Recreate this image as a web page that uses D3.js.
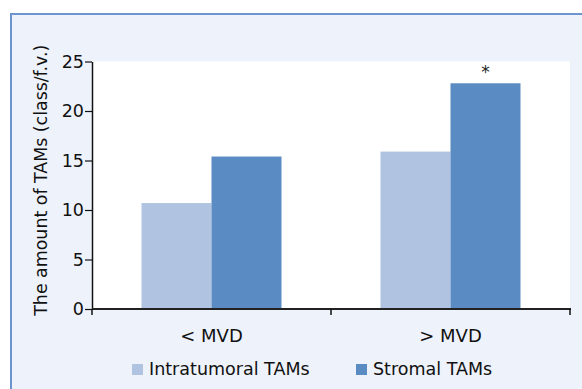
<!DOCTYPE html>
<html><head><meta charset="utf-8">
<script src="https://cdn.jsdelivr.net/npm/d3@7"></script>
<style>body{margin:0;background:#fff}svg{display:block;font-family:"DejaVu Sans",sans-serif}</style>
</head><body><svg id="c" width="582" height="389"></svg>
<script>
const categories = ["< MVD", "> MVD"];
const seriesNames = ["Intratumoral TAMs", "Stromal TAMs"];
const intratumoral = [10.7, 15.9];
const stromal = [15.4, 22.8];
const yTicks = [0, 5, 10, 15, 20, 25];
const significance = ["", "*"];
const colors = ["#b0c3e0", "#5b8bc3"];

const svg = d3.select("#c");
svg.append("rect").attr("x", 11).attr("y", 14).attr("width", 580).attr("height", 390)
  .attr("fill", "#eef2fa").attr("stroke", "#6d94cf").attr("stroke-width", 2);

const x0 = 92, x1 = 570, yB = 309, yT = 61.5;
svg.append("rect").attr("x", x0).attr("y", yT).attr("width", x1 - x0).attr("height", yB - yT).attr("fill", "#fff");

const x = d3.scaleBand().domain(categories).range([x0, x1]).padding(0);
const y = d3.scaleLinear().domain([0, 25]).range([yB, yT]);
const bw = 70;
const xs = d3.scaleBand().domain(seriesNames).range([x.bandwidth()/2 - bw, x.bandwidth()/2 + bw]).padding(0);

const data = categories.map((c, i) => ({c, vals: [intratumoral[i], stromal[i]], sig: significance[i]}));
const g = svg.append("g").selectAll("g").data(data).join("g").attr("transform", d => `translate(${x(d.c)},0)`);
g.selectAll("rect").data(d => d.vals.map((v, j) => ({v, s: seriesNames[j], j}))).join("rect")
  .attr("x", d => xs(d.s)).attr("width", xs.bandwidth())
  .attr("y", d => y(d.v)).attr("height", d => y(0) - y(d.v)).attr("fill", d => colors[d.j]);
g.append("text").attr("x", xs(seriesNames[1]) + xs.bandwidth()/2)
  .attr("y", (d) => y(d.vals[1]) - 5).attr("text-anchor", "middle")
  .attr("font-size", 17).attr("fill", "#222").text(d => d.sig);

// y axis
const ya = svg.append("g").attr("transform", `translate(${x0},0)`)
  .call(d3.axisLeft(y).tickValues(yTicks).tickSize(7).tickPadding(1).tickSizeOuter(0));
ya.select(".domain").attr("stroke", "#111").attr("stroke-width", 1.5);
ya.selectAll(".tick line").attr("stroke", "#111").attr("stroke-width", 1.2);
ya.selectAll("text").attr("font-size", 17.5).attr("fill", "#111").attr("font-family", "DejaVu Sans");

// x axis
const xa = svg.append("g").attr("transform", `translate(0,${yB})`);
xa.append("line").attr("x1", x0).attr("x2", x1 + 1).attr("y1", 0).attr("y2", 0).attr("stroke", "#222").attr("stroke-width", 2);
const bounds = [x0, ...categories.map(c => x(c) + x.bandwidth())];
xa.selectAll("line.t").data(bounds).join("line").attr("class", "t")
  .attr("x1", d => d).attr("x2", d => d).attr("y1", 0).attr("y2", 6).attr("stroke", "#111").attr("stroke-width", 1.5);
xa.selectAll("text").data(categories).join("text")
  .attr("x", d => x(d) + x.bandwidth()/2).attr("y", 33).attr("text-anchor", "middle")
  .attr("font-size", 18).attr("fill", "#111").text(d => d);

// y title
svg.append("text").attr("transform", `translate(47,${(yB + yT)/2 - 5}) rotate(-90)`)
  .attr("text-anchor", "middle").attr("font-size", 17.4).attr("fill", "#111")
  .text("The amount of TAMs (class/f.v.)");

// legend
const legX = [132, 356];
const lg = svg.append("g").selectAll("g").data(seriesNames).join("g").attr("transform", (d, i) => `translate(${legX[i]},364)`);
lg.append("rect").attr("width", 11).attr("height", 11).attr("fill", (d, i) => colors[i]);
lg.append("text").attr("x", 17).attr("y", 11).attr("font-size", 17.5).attr("fill", "#111").text(d => d);
</script></body></html>
